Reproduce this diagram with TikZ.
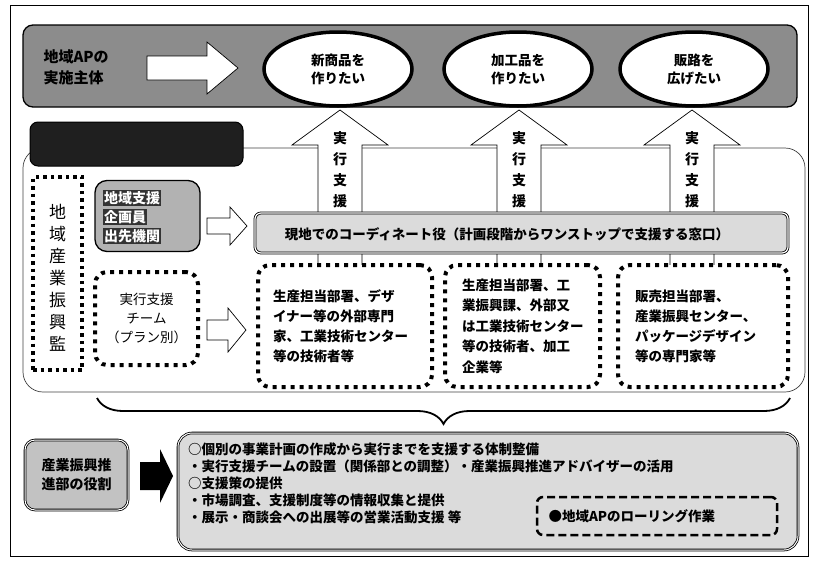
\documentclass[tikz,border=0pt]{standalone}
\usepackage{fontspec}
\setmainfont{Noto Sans CJK JP}
\usetikzlibrary{shapes.geometric,decorations.pathreplacing}
\definecolor{bandgray}{gray}{0.55}
\definecolor{boxgray}{gray}{0.86}
\definecolor{midgray}{gray}{0.70}
\begin{document}
\begin{tikzpicture}[x=1pt,y=-1pt,
  jp/.style={font=\fontsize{13.5}{20}\selectfont},
  jpb/.style={font=\fontsize{13.5}{20}\selectfont\bfseries},
  goal/.style={ellipse, draw=black, line width=3.5pt, fill=white, minimum width=148pt, minimum height=74pt, align=center, font=\fontsize{13.5}{18}\selectfont\bfseries},
  blockarrow/.style={draw=black, line width=0.7pt, fill=white, line join=miter},
  dotbox/.style={draw=black, line width=4pt, dash pattern=on 4pt off 5pt, rounded corners=12pt, fill=white, inner sep=0pt},
  vtext/.style={align=center, font=\fontsize{14}{21}\selectfont\bfseries},
  softbox/.style={draw=black, line width=1.3pt, rounded corners=12pt},
]
\useasboundingbox (0,0) rectangle (813,570);
% outer frame
\draw[line width=0.9pt] (10,5) rectangle (808,556);

% top band
\draw[softbox, fill=bandgray, rounded corners=10pt] (23,25) rectangle (797,107);
\node[jpb, anchor=west, align=left, font=\fontsize{15}{21}\selectfont\bfseries] (actor) at (40,67) {地域APの\\実施主体};
\coordinate (arrS) at (147,68);
\coordinate (arrT) at (238,68);
\draw[blockarrow] (147,56) -- (207,56) -- (207,42) -- (arrT) -- (207,94) -- (207,80) -- (147,80) -- cycle;

% container
\draw[line width=0.7pt, draw=black!75, rounded corners=20pt] (23,148) rectangle (805,392);

% up arrows
\foreach \cx/\nm in {340/a, 519/b, 692/c}{
  \draw[blockarrow] ({\cx-22},268) -- ({\cx-22},145) -- ({\cx-48},145) -- (\cx,110) -- ({\cx+48},145) -- ({\cx+22},145) -- ({\cx+22},268) -- cycle;
  \node[vtext] (sup\nm) at (\cx,170) {実\\行\\支\\援};
}

% goals
\node[goal] (g1) at (338,69) {新商品を\\作りたい};
\node[goal] (g2) at (518,69) {加工品を\\作りたい};
\node[goal] (g3) at (694,69) {販路を\\広げたい};

% dark header
\node[draw=black, fill=black!88, rounded corners=8pt, minimum width=213pt, minimum height=44pt, line width=1pt] (header) at (136.5,144) {};

% chiiki sangyo shinkokan
\node[draw=black, line width=3.5pt, dash pattern=on 3.5pt off 4pt, minimum width=49pt, minimum height=193pt, inner sep=0pt] (kan) at (57.5,273.5) {};
\node[align=center, font=\fontsize{17}{22}\selectfont] (kantext) at (57.5,278) {地\\域\\産\\業\\振\\興\\監};

% chiiki shien box
\node[softbox, fill=midgray, minimum width=105pt, minimum height=71pt] (shien) at (147.5,216) {};
\node[anchor=west, fill=black!80, text=white, inner sep=1pt, font=\fontsize{14}{16}\selectfont\bfseries] (s1) at (103,198) {地域支援};
\node[anchor=west, fill=black!80, text=white, inner sep=1pt, font=\fontsize{14}{16}\selectfont\bfseries] (s2) at (103,217) {企画員};
\node[anchor=west, fill=black!80, text=white, inner sep=1pt, font=\fontsize{14}{16}\selectfont\bfseries] (s3) at (103,236) {出先機関};

% coordinator
\node[draw=black, double, double distance=1.2pt, line width=0.8pt, fill=boxgray, rounded corners=6pt, minimum width=533pt, minimum height=40pt] (coord) at (521.5,233) {};
\node[jpb] (coordtext) at (507,234) {現地でのコーディネート役（計画段階からワンストップで支援する窓口）};
\draw[blockarrow] (207,218) -- (230,218) -- (230,207) -- (247,226) -- (230,245) -- (230,234) -- (207,234) -- cycle;

% dotted boxes
\node[dotbox, minimum width=103pt, minimum height=93pt, align=center, jp, font=\fontsize{13.5}{19}\selectfont] (team) at (146.5,318.5) {実行支援\\チーム\\（プラン別）};
\draw[blockarrow] (207,320) -- (228,320) -- (228,308) -- (246,330) -- (228,352) -- (228,340) -- (207,340) -- cycle;
\node[dotbox, minimum width=174pt, minimum height=122pt, text width=144pt, inner xsep=15pt, align=left, jpb] (boxA) at (345,326) {生産担当部署、デザ\\イナー等の外部専門\\家、工業技術センター\\等の技術者等};
\node[dotbox, minimum width=155pt, minimum height=122pt, text width=121pt, inner xsep=17pt, align=left, jpb, font=\fontsize{13.5}{20.5}\selectfont\bfseries] (boxB) at (522.5,326) {生産担当部署、工\\業振興課、外部又\\は工業技術センター\\等の技術者、加工\\企業等};
\node[dotbox, minimum width=170pt, minimum height=122pt, text width=136pt, inner xsep=17pt, align=left, jpb] (boxC) at (703,326) {販売担当部署、\\産業振興センター、\\パッケージデザイン\\等の専門家等};

% brace
\draw[line width=1.8pt, decorate, decoration={brace, mirror, amplitude=26pt}] (97,398) -- (790,398);

% bottom
\node[softbox, fill=midgray!80, double, double distance=1pt, line width=0.8pt, minimum width=103pt, minimum height=70pt, align=center, font=\fontsize{14}{19}\selectfont\bfseries, rounded corners=10pt] (role) at (76.5,475) {産業振興推\\進部の役割};
\fill[black] (140,462) -- (160,462) -- (160,449) -- (173,476) -- (160,503) -- (160,490) -- (140,490) -- cycle;
\node[softbox, fill=boxgray, double, double distance=1pt, line width=0.8pt, minimum width=620pt, minimum height=117pt, rounded corners=14pt] (roles) at (488,491.5) {};
\node[anchor=north west, align=left, font=\fontsize{13.5}{17}\selectfont\bfseries, inner sep=0pt] (rolestext) at (188,443) {○個別の事業計画の作成から実行までを支援する体制整備\\・実行支援チームの設置（関係部との調整）・産業振興推進アドバイザーの活用\\○支援策の提供\\・市場調査、支援制度等の情報収集と提供\\・展示・商談会への出展等の営業活動支援 等};
\node[draw=black, line width=2.5pt, dash pattern=on 8pt off 4pt, rounded corners=6pt, minimum width=240pt, minimum height=38pt] (rolling) at (657,516) {};
\node[anchor=west, font=\fontsize{13.5}{16}\selectfont\bfseries] (rollingtext) at (545,516) {●地域APのローリング作業};
\end{tikzpicture}
\end{document}
